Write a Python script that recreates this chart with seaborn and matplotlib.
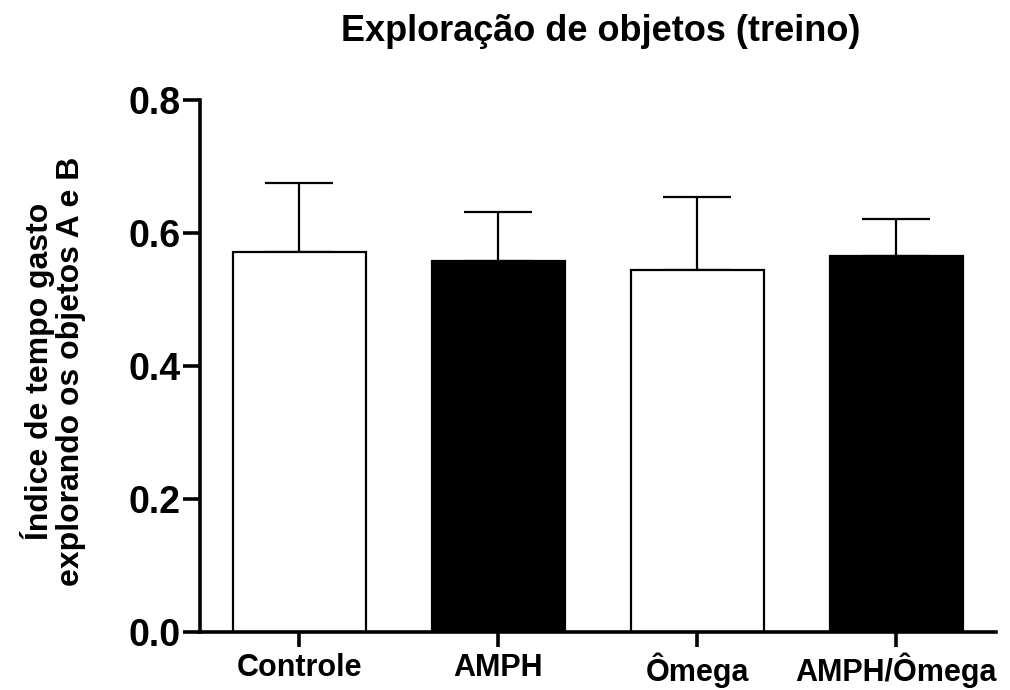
import matplotlib
matplotlib.use("Agg")
import matplotlib.pyplot as plt
import seaborn as sns
import numpy as np
import pandas as pd

categories = ["Controle", "AMPH", "Ômega", "AMPH/Ômega"]
means = [0.571, 0.558, 0.544, 0.565]
err_upper = [0.105, 0.073, 0.110, 0.056]
bar_colors = ["white", "black", "white", "black"]
yticks = [0.0, 0.2, 0.4, 0.6, 0.8]
title = "Exploração de objetos (treino)"
ylabel = "Índice de tempo gasto\nexplorando os objetos A e B"

sns.set_style("white")
plt.rcParams["font.family"] = ["Liberation Sans", "DejaVu Sans"]
plt.rcParams["font.weight"] = "bold"
plt.rcParams["text.color"] = "black"
plt.rcParams["axes.labelcolor"] = "black"
plt.rcParams["xtick.color"] = "black"
plt.rcParams["ytick.color"] = "black"

fig = plt.figure(figsize=(10.1, 6.9), dpi=100)
ax = fig.add_axes([0.198, 0.084, 0.788, 0.771])

df = pd.DataFrame({"grupo": categories, "valor": means})
sns.barplot(data=df, x="grupo", y="valor", hue="grupo", palette=bar_colors,
            edgecolor="black", linewidth=1.6, width=0.667, legend=False,
            errorbar=None, ax=ax, zorder=2)

xpos = np.arange(len(categories))
ax.errorbar(xpos, means, yerr=[np.zeros(len(means)), err_upper], fmt="none",
            ecolor="black", elinewidth=1.6, capsize=24.5, capthick=1.6, zorder=1)

ax.set_xlim(-0.5, 3.5)
ax.set_ylim(0, 0.8)
ax.set_yticks(yticks)
ax.set_yticklabels([f"{v:.1f}" for v in yticks], fontsize=27, fontweight="bold")
ax.set_xticks(xpos)
ax.set_xticklabels(categories, fontsize=22, fontweight="bold")

for s in ["top", "right"]:
    ax.spines[s].set_visible(False)
for s in ["left", "bottom"]:
    ax.spines[s].set_linewidth(2.6)
    ax.spines[s].set_color("black")

ax.tick_params(axis="y", direction="out", length=12.5, width=2.6, color="black",
               left=True, pad=1.5)
ax.tick_params(axis="x", direction="out", length=11, width=2.6, color="black",
               bottom=True, pad=4)
ax.set_xlabel("")
ax.set_ylabel(ylabel, fontsize=23, fontweight="bold", linespacing=1.05)
ax.yaxis.set_label_coords(-0.143, 0.49)
fig.text(0.595, 0.955, title, ha="center", va="center", fontsize=26, fontweight="bold")

fig.savefig("out.png", dpi=100, facecolor="white")
